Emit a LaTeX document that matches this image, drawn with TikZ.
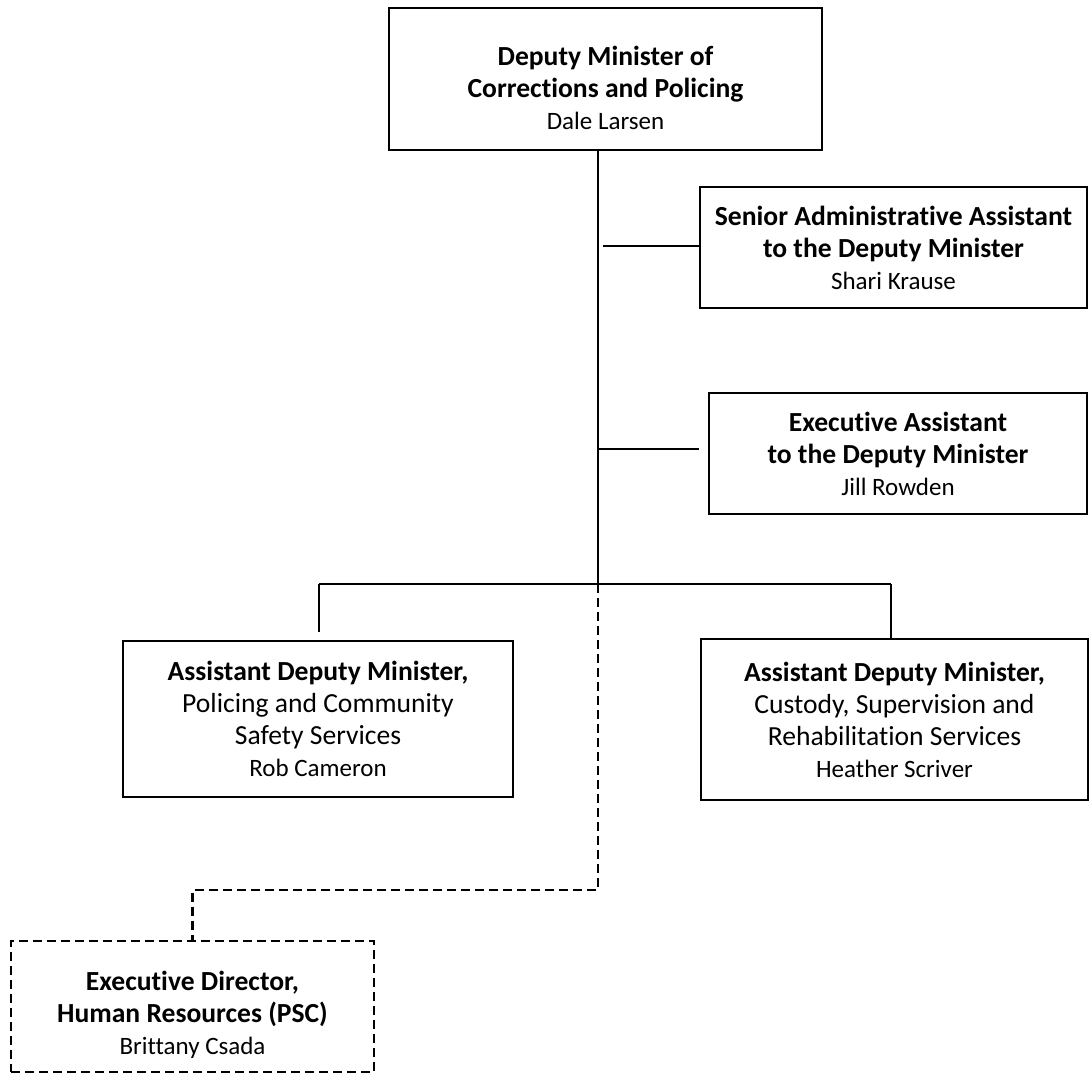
\documentclass[tikz,border=0pt]{standalone}
\usepackage{fontspec}
\setmainfont{Carlito}[Ligatures={NoCommon,NoContextual}]
\usepackage{tikz}

\begin{document}
\begin{tikzpicture}[x=1pt,y=-1pt,
  box/.style={draw,line width=2pt,align=center,inner sep=0pt,
    font=\fontsize{27.6}{32}\selectfont},
  txt/.style={align=center,inner sep=0pt,font=\fontsize{27.6}{32}\selectfont},
  link/.style={line width=1.8pt},
  dotted link/.style={line width=2.3pt,dash pattern=on 9pt off 5pt}]
\useasboundingbox (0,0) rectangle (1089,1074);
\node[box,minimum width=433pt,minimum height=142pt] (dm) at (605.5,79) {};
\node[txt] (dmtxt) at ([yshift=-9pt]dm.center) {\textbf{Deputy Minister of}\\\textbf{Corrections and Policing}\\{\fontsize{25}{30}\selectfont Dale Larsen}};
\node[box,minimum width=387pt,minimum height=121pt] (sa) at (893.5,247.5) {\textbf{Senior Administrative Assistant}\\\textbf{to the Deputy Minister}\\{\fontsize{25}{30}\selectfont Shari Krause}};
\node[box,minimum width=378pt,minimum height=121pt] (ea) at (898,453.5) {\textbf{Executive Assistant}\\\textbf{to the Deputy Minister}\\{\fontsize{25}{30}\selectfont Jill Rowden}};
\node[box,minimum width=390pt,minimum height=156pt] (admL) at (318,719) {\textbf{Assistant Deputy Minister,}\\Policing and Community\\Safety Services\\{\fontsize{25}{30}\selectfont Rob Cameron}};
\node[box,minimum width=387pt,minimum height=161pt] (admR) at (894.5,719.5) {\textbf{Assistant Deputy Minister,}\\Custody, Supervision and\\Rehabilitation Services\\{\fontsize{25}{30}\selectfont Heather Scriver}};
\node[box,dotted link,minimum width=363pt,minimum height=131pt] (hr) at (192.5,1006.5) {};
\node[txt] (hrtxt) at ([yshift=-8pt]hr.center) {\textbf{Executive Director,}\\\textbf{Human Resources (PSC)}\\{\fontsize{25}{30}\selectfont Brittany Csada}};
\coordinate (bar) at (598,584);
\coordinate (barL) at (319,584);
\coordinate (barR) at (891,584);
\coordinate (sajoin) at (603,246);
\coordinate (eajoin) at (598,449);
\coordinate (hrturn) at (598,890);
\draw[link] (dm.south -| bar) -- (bar);
\draw[link] (sajoin) -- (sajoin -| sa.west);
\draw[link,line width=1.3pt] (eajoin) -- ([xshift=-9pt]eajoin -| ea.west);
\draw[link] (barL) -- (barR);
\draw[link] (barL) -- ([yshift=8pt]admL.north -| barL);
\draw[link] (barR) -- (admR.north -| barR);
\draw[dotted link] (bar) -- (hrturn) -| (hr.north);
\end{tikzpicture}
\end{document}
